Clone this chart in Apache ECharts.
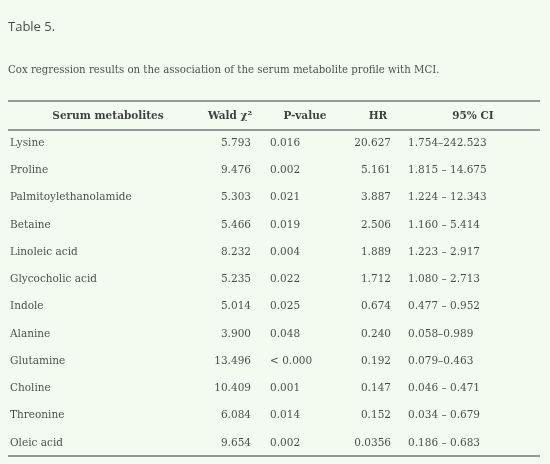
<!DOCTYPE html>
<html><head><meta charset="utf-8">
<script src="https://cdn.jsdelivr.net/npm/echarts@6/dist/echarts.min.js"></script>
<style>html,body{margin:0;padding:0;background:#f3fbf0}#c{width:550px;height:464px}</style>
</head><body><div id="c"></div>
<script>
const headers = ['Serum metabolites', 'Wald χ²', 'P-value', 'HR', '95% CI'];
const metabolites = ['Lysine','Proline','Palmitoylethanolamide','Betaine','Linoleic acid','Glycocholic acid','Indole','Alanine','Glutamine','Choline','Threonine','Oleic acid'];
const wald = ['5.793','9.476','5.303','5.466','8.232','5.235','5.014','3.900','13.496','10.409','6.084','9.654'];
const pValue = ['0.016','0.002','0.021','0.019','0.004','0.022','0.025','0.048','< 0.000','0.001','0.014','0.002'];
const hr = ['20.627','5.161','3.887','2.506','1.889','1.712','0.674','0.240','0.192','0.147','0.152','0.0356'];
const ci = ['1.754–242.523','1.815 – 14.675','1.224 – 12.343','1.160 – 5.414','1.223 – 2.917','1.080 – 2.713','0.477 – 0.952','0.058–0.989','0.079–0.463','0.046 – 0.471','0.034 – 0.679','0.186 – 0.683'];

const serif = 'DejaVu Serif';
const color = '#1e1e1e';
const rowY = i => 143 + i * 27.27;
function col(x, align, texts) {
  return {
    type: 'scatter', symbolSize: 0, silent: true,
    data: texts.map((t, i) => ({value: [x, rowY(i)], name: t})),
    label: {show: true, position: 'inside', align: align, verticalAlign: 'middle',
      formatter: p => p.name, color: color, fontFamily: serif, fontSize: 10.5}
  };
}
function hline(y, w) {
  return {type: 'line', silent: true, symbol: 'none', data: [[8, y], [540, y]],
    lineStyle: {color: '#777', width: w}};
}
const series = [
  col(10, 'left', metabolites),
  col(251, 'right', wald),
  col(270, 'left', pValue),
  col(391, 'right', hr),
  col(408, 'left', ci),
  {type: 'scatter', symbolSize: 0, silent: true,
    data: [108, 230, 305, 378, 473].map((x, i) => ({value: [x, 116], name: headers[i]})),
    label: {show: true, position: 'inside', align: 'center', verticalAlign: 'middle',
      formatter: p => p.name, color: '#111', fontFamily: serif, fontSize: 10.5, fontWeight: 'bold'}},
  {type: 'scatter', symbolSize: 0, silent: true,
    data: [{value: [8, 27], name: 'Table 5.'}],
    label: {show: true, position: 'inside', align: 'left', verticalAlign: 'middle',
      formatter: p => p.name, color: '#222', fontFamily: 'Open Sans', fontSize: 13}},
  {type: 'scatter', symbolSize: 0, silent: true,
    data: [{value: [8, 70], name: 'Cox regression results on the association of the serum metabolite profile with MCI.'}],
    label: {show: true, position: 'inside', align: 'left', verticalAlign: 'middle',
      formatter: p => p.name, color: '#1e1e1e', fontFamily: serif, fontSize: 10.2}},
  hline(101, 1.5), hline(130, 1.5), hline(456, 1.5)
];
const chart = echarts.init(document.getElementById('c'));
chart.setOption({
  backgroundColor: '#f3fbf0',
  animation: false,
  grid: {left: 0, right: 0, top: 0, bottom: 0},
  xAxis: {type: 'value', min: 0, max: 550, show: false},
  yAxis: {type: 'value', min: 0, max: 464, inverse: true, show: false},
  series: series
});
</script></body></html>
